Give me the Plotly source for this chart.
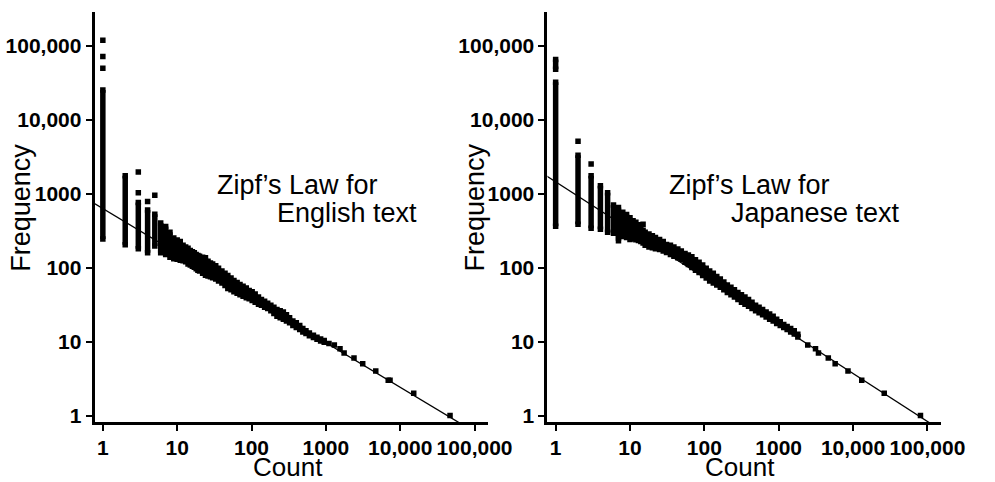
import plotly.graph_objects as go

# ---------------- data ----------------
# English: per count -> (low, high) frequency spread
eng_count = [1, 2, 3, 4, 5, 6, 7, 8, 9, 10, 11, 12, 13, 14, 15, 16, 17, 18, 19, 20,
             22, 24, 26, 28, 30, 33, 36, 40, 44, 48, 53, 58, 64, 70, 77, 85, 93, 102,
             112, 124, 136, 150, 165, 182, 200, 220, 243, 268, 295, 325, 360, 400,
             445, 490, 540, 600, 680, 760, 850, 950]
eng_low = [244, 203, 179, 158, 196, 158, 150, 138, 132, 130, 126, 124, 120, 112, 108, 104,
           101, 96, 92, 90, 84, 79, 77, 75, 73, 70, 66, 62, 57, 52, 50, 47, 45, 43, 41,
           39, 38, 36, 34, 32, 31, 29, 28, 26, 24, 22, 21, 20, 19, 18, 16.5, 15.5, 14.5,
           13.5, 12.8, 12, 11.3, 10.7, 10.2, 9.8]
eng_high = [25100, 1740, 760, 600, 525, 400, 360, 300, 250, 235, 225, 200, 190, 182, 170,
            163, 158, 150, 146, 142, 138, 136, 122, 115, 112, 106, 98, 90, 84, 78, 72, 67,
            63, 59, 56, 53, 49, 47, 44, 40, 37, 35, 33, 31, 29, 27, 26, 25, 23, 21, 19,
            18, 16.5, 15, 14, 13, 12.2, 11.4, 10.8, 10.3]
eng_pt_count = [1, 1, 1, 3, 3, 4, 5, 1100, 1300, 1550, 1760, 2390, 3130, 4690, 6900, 7300,
                15200, 46800]
eng_pt_freq = [49300, 71300, 118000, 1030, 1965, 780, 950, 9.4, 9, 8, 7, 6, 5, 4, 3, 3,
               2, 1]
eng_fit_x = [0.597, 83200]
eng_fit_y = [857, 0.67]

# Japanese
jap_count = [1, 1, 2, 3, 4, 5, 6, 7, 8, 9, 10, 11, 12, 13, 14, 15, 16, 18, 20, 22, 25, 28,
             31, 35, 39, 44, 49, 55, 61, 68, 76, 85, 95, 106, 118, 132, 147, 164, 183,
             204, 228, 254, 283, 316, 352, 393, 438, 489, 545, 608, 678, 756, 843, 940,
             1050, 1170, 1300, 1450, 1620, 1810]
jap_low = [363, 47800, 386, 341, 330, 300, 290, 250, 262, 255, 240, 245, 238, 232, 225,
           215, 200, 190, 185, 180, 176, 168, 160, 150, 142, 136, 130, 118, 110, 100, 92,
           86, 78, 72, 66, 62, 58, 54, 50, 46, 43, 40, 37, 34, 32, 30, 28, 26, 24.5, 23,
           21.5, 20, 19, 17.5, 16.5, 15.5, 14.5, 13.5, 12.6, 11.5]
jap_high = [32100, 65000, 3310, 1740, 1280, 1030, 700, 650, 560, 520, 470, 430, 410, 380,
            340, 320, 300, 285, 270, 255, 240, 225, 205, 200, 190, 178, 168, 155, 148, 140,
            128, 118, 108, 98, 90, 84, 76, 70, 64, 58, 54, 50, 46, 43, 40, 37, 34, 31, 29,
            27, 25, 23.5, 22, 20, 18.5, 17, 16, 15, 14, 12.5]
jap_pt_count = [2, 3, 15, 7, 2460, 3130, 3430, 4650, 5750, 8560, 13100, 26300, 80800]
jap_pt_freq = [5090, 2510, 386, 230, 9, 8, 7, 6, 5, 4, 3, 2, 1]
jap_fit_x = [0.653, 139600]
jap_fit_y = [1905, 0.67]

tick_vals = [1, 10, 100, 1000, 10000, 100000]
tick_text = ["1", "10", "100", "1000", "10,000", "100,000"]

# ---------------- figure ----------------
W, H = 995, 482
FONT = "Arial, Liberation Sans, sans-serif"


def px(x):
    return x / W


def py(y):
    return 1 - y / H


fig = go.Figure()


def add_panel(counts, lows, highs, ptx, pty, fx, fy, xa, ya):
    xs, ys = [], []
    for c, lo, hi in zip(counts, lows, highs):
        xs += [c, c, None]
        ys += [lo, hi, None]
    fig.add_trace(go.Scatter(
        x=xs, y=ys, mode="lines+markers", xaxis=xa, yaxis=ya,
        line=dict(color="black", width=5.5),
        marker=dict(symbol="square", size=5.5, color="black"),
        hoverinfo="skip", showlegend=False))
    fig.add_trace(go.Scatter(
        x=ptx, y=pty, mode="markers", xaxis=xa, yaxis=ya,
        marker=dict(symbol="square", size=5.5, color="black"),
        showlegend=False))
    fig.add_trace(go.Scatter(
        x=fx, y=fy, mode="lines", xaxis=xa, yaxis=ya,
        line=dict(color="black", width=1.3), showlegend=False))


add_panel(eng_count, eng_low, eng_high, eng_pt_count, eng_pt_freq,
          eng_fit_x, eng_fit_y, "x", "y")
add_panel(jap_count, jap_low, jap_high, jap_pt_count, jap_pt_freq,
          jap_fit_x, jap_fit_y, "x2", "y2")

axis_common = dict(
    type="log", showgrid=False, zeroline=False, showline=True,
    linecolor="black", linewidth=3, ticks="outside", ticklen=6,
    tickwidth=2, tickcolor="black", tickmode="array",
    tickvals=tick_vals, ticktext=tick_text,
    tickfont=dict(family=FONT, size=21, color="black", weight="bold"),
)
xaxis_extra = dict(ticklabelstandoff=-2)

ydom = [py(426), py(12)]
fig.update_layout(
    width=W, height=H,
    margin=dict(l=0, r=0, t=0, b=0),
    paper_bgcolor="white", plot_bgcolor="white",
    showlegend=False,
    xaxis=dict(axis_common, **xaxis_extra, domain=[px(97), px(500)], range=[-0.11, 5.18], anchor="y"),
    yaxis=dict(axis_common, domain=ydom, range=[-0.094, 5.456], anchor="x"),
    xaxis2=dict(axis_common, **xaxis_extra, domain=[px(561), px(964)], range=[-0.11, 5.18], anchor="y2"),
    yaxis2=dict(axis_common, domain=ydom, range=[-0.094, 5.456], anchor="x2"),
)

big = dict(family=FONT, size=27, color="black")
mid = dict(family=FONT, size=26, color="black")
annotations = [
    dict(text="Frequency", x=px(22), y=py(209), textangle=-90, font=big),
    dict(text="Frequency", x=px(487), y=py(209), textangle=-90, font=big),
    dict(text="Count", x=px(295), y=py(471), font=mid),
    dict(text="Count", x=px(758), y=py(471), font=mid),
    dict(text="Zipf\u2019s Law for", x=px(220), y=py(187), xanchor="left", font=big),
    dict(text="English text", x=px(282), y=py(215), xanchor="left", font=big),
    dict(text="Zipf\u2019s Law for", x=px(683), y=py(187), xanchor="left", font=big),
    dict(text="Japanese text", x=px(747), y=py(215), xanchor="left", font=big),
]
for a in annotations:
    a.setdefault("xanchor", "center")
    a.update(xref="paper", yref="paper", yanchor="middle", showarrow=False)
fig.update_layout(annotations=annotations)

fig.write_html(
    "out.html",
    config={"displayModeBar": False},
    post_script="document.body.style.margin='0';document.body.style.overflow='hidden';",
)
